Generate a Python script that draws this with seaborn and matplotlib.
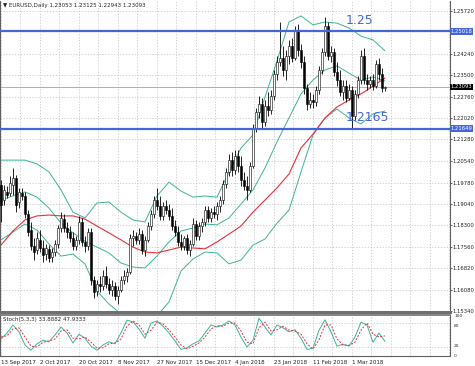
import matplotlib
matplotlib.use("Agg")
import matplotlib.pyplot as plt
import seaborn as sns

# EURUSD daily bars, bar 0 = 13 Sep 2017
opens = [1.1970, 1.1918, 1.1946, 1.1942, 1.1970, 1.1994, 1.1911, 1.1942, 1.1932, 1.1870,
         1.1814, 1.1759, 1.1745, 1.1780, 1.1752, 1.1731, 1.1749, 1.1721, 1.1738, 1.1766,
         1.1821, 1.1853, 1.1821, 1.1807, 1.1787, 1.1759, 1.1780, 1.1842, 1.1773, 1.1759,
         1.1807, 1.1641, 1.1603, 1.1627, 1.1620, 1.1655, 1.1627, 1.1607, 1.1620, 1.1586,
         1.1607, 1.1641, 1.1655, 1.1669, 1.1787, 1.1793, 1.1780, 1.1800, 1.1745, 1.1780,
         1.1828, 1.1870, 1.1918, 1.1897, 1.1863, 1.1897, 1.1883, 1.1863, 1.1828, 1.1807,
         1.1773, 1.1759, 1.1787, 1.1745, 1.1766, 1.1835, 1.1793, 1.1828, 1.1842, 1.1883,
         1.1856, 1.1876, 1.1870, 1.1897, 1.1918, 1.1973, 1.2015, 1.2056, 1.2022, 1.2070,
         1.2036, 1.1987, 1.1966, 1.1953, 1.2036, 1.2167, 1.2222, 1.2250, 1.2188, 1.2243,
         1.2229, 1.2278, 1.2354, 1.2395, 1.2409, 1.2368, 1.2416, 1.2451, 1.2409, 1.2506,
         1.2437, 1.2395, 1.2306, 1.2250, 1.2264, 1.2257, 1.2299, 1.2368, 1.2430, 1.2520,
         1.2416, 1.2430, 1.2361, 1.2333, 1.2292, 1.2312, 1.2271, 1.2299, 1.2209, 1.2285,
         1.2333, 1.2416, 1.2333, 1.2319, 1.2333, 1.2312, 1.2389, 1.2354, 1.23053]
highs = [1.1987, 1.1970, 1.1966, 1.2001, 1.2029, 1.2005, 1.1960, 1.1960, 1.1946, 1.1883,
         1.1842, 1.1787, 1.1807, 1.1814, 1.1780, 1.1766, 1.1762, 1.1752, 1.1780, 1.1832,
         1.1876, 1.1870, 1.1842, 1.1828, 1.1807, 1.1793, 1.1863, 1.1856, 1.1793, 1.1821,
         1.1821, 1.1655, 1.1641, 1.1655, 1.1676, 1.1690, 1.1648, 1.1641, 1.1634, 1.1620,
         1.1655, 1.1676, 1.1683, 1.1800, 1.1814, 1.1807, 1.1821, 1.1814, 1.1793, 1.1842,
         1.1883, 1.1932, 1.1960, 1.1932, 1.1911, 1.1918, 1.1904, 1.1890, 1.1849, 1.1828,
         1.1800, 1.1793, 1.1800, 1.1780, 1.1856, 1.1849, 1.1842, 1.1856, 1.1897, 1.1897,
         1.1890, 1.1897, 1.1911, 1.1932, 1.1987, 1.2029, 1.2077, 1.2084, 1.2091, 1.2091,
         1.2070, 1.2015, 1.2001, 1.2049, 1.2181, 1.2236, 1.2278, 1.2271, 1.2264, 1.2292,
         1.2299, 1.2368, 1.2416, 1.2534, 1.2451, 1.2437, 1.2472, 1.2479, 1.2520, 1.2527,
         1.2458, 1.2416, 1.2319, 1.2292, 1.2285, 1.2312, 1.2382, 1.2444, 1.2551, 1.2534,
         1.2451, 1.2444, 1.2395, 1.2368, 1.2333, 1.2333, 1.2319, 1.2312, 1.2299, 1.2347,
         1.2437, 1.2444, 1.2354, 1.2347, 1.2354, 1.2402, 1.2409, 1.2375, 1.23125]
lows = [1.1842, 1.1901, 1.1925, 1.1932, 1.1935, 1.1876, 1.1890, 1.1918, 1.1856, 1.1793,
        1.1745, 1.1710, 1.1731, 1.1738, 1.1703, 1.1710, 1.1703, 1.1703, 1.1724, 1.1752,
        1.1807, 1.1807, 1.1787, 1.1773, 1.1745, 1.1745, 1.1766, 1.1759, 1.1738, 1.1745,
        1.1624, 1.1579, 1.1586, 1.1600, 1.1607, 1.1614, 1.1593, 1.1586, 1.1572, 1.1558,
        1.1600, 1.1627, 1.1634, 1.1662, 1.1759, 1.1766, 1.1766, 1.1731, 1.1724, 1.1773,
        1.1814, 1.1856, 1.1883, 1.1849, 1.1849, 1.1870, 1.1849, 1.1814, 1.1793, 1.1759,
        1.1745, 1.1745, 1.1731, 1.1724, 1.1759, 1.1780, 1.1780, 1.1807, 1.1828, 1.1842,
        1.1842, 1.1856, 1.1849, 1.1876, 1.1904, 1.1960, 1.2001, 1.2001, 1.2008, 1.2015,
        1.1966, 1.1953, 1.1918, 1.1946, 1.2029, 1.2153, 1.2202, 1.2167, 1.2174, 1.2209,
        1.2216, 1.2264, 1.2333, 1.2382, 1.2347, 1.2333, 1.2389, 1.2395, 1.2402, 1.2416,
        1.2375, 1.2285, 1.2229, 1.2236, 1.2236, 1.2243, 1.2285, 1.2354, 1.2416, 1.2402,
        1.2395, 1.2347, 1.2312, 1.2278, 1.2264, 1.2257, 1.2264, 1.2167, 1.2195, 1.2271,
        1.2319, 1.2319, 1.2299, 1.2306, 1.2299, 1.2306, 1.2333, 1.2292, 1.22943]
closes = [1.1901, 1.1953, 1.1935, 1.1977, 1.1994, 1.1901, 1.1946, 1.1932, 1.1870, 1.1807,
          1.1759, 1.1738, 1.1787, 1.1752, 1.1728, 1.1752, 1.1717, 1.1738, 1.1766, 1.1821,
          1.1856, 1.1821, 1.1807, 1.1787, 1.1759, 1.1780, 1.1842, 1.1773, 1.1759, 1.1807,
          1.1641, 1.1600, 1.1627, 1.1620, 1.1655, 1.1627, 1.1607, 1.1620, 1.1586, 1.1607,
          1.1641, 1.1655, 1.1669, 1.1787, 1.1793, 1.1780, 1.1800, 1.1745, 1.1780, 1.1828,
          1.1870, 1.1918, 1.1897, 1.1863, 1.1897, 1.1883, 1.1863, 1.1828, 1.1807, 1.1773,
          1.1759, 1.1787, 1.1745, 1.1766, 1.1835, 1.1793, 1.1828, 1.1842, 1.1883, 1.1856,
          1.1876, 1.1870, 1.1897, 1.1918, 1.1973, 1.2015, 1.2056, 1.2022, 1.2070, 1.2036,
          1.1987, 1.1966, 1.1953, 1.2036, 1.2167, 1.2222, 1.2250, 1.2188, 1.2243, 1.2229,
          1.2278, 1.2354, 1.2395, 1.2409, 1.2368, 1.2416, 1.2451, 1.2409, 1.2506, 1.2437,
          1.2395, 1.2306, 1.2250, 1.2264, 1.2257, 1.2299, 1.2368, 1.2430, 1.2520, 1.2416,
          1.2430, 1.2361, 1.2333, 1.2292, 1.2312, 1.2271, 1.2299, 1.2209, 1.2285, 1.2333,
          1.2416, 1.2333, 1.2319, 1.2333, 1.2312, 1.2389, 1.2354, 1.2306, 1.23093]

# indicator lines read every 4 bars
ind_step = 4
ma_red = [1.1762, 1.1811, 1.1849, 1.1863, 1.1866, 1.1863, 1.1863, 1.1852, 1.1828, 1.1804,
          1.1780, 1.1755, 1.1738, 1.1735, 1.1745, 1.1755, 1.1752, 1.1749, 1.1773, 1.1800,
          1.1828, 1.1876, 1.1918, 1.1960, 1.2008, 1.2098, 1.2146, 1.2202, 1.2240, 1.2264,
          1.2285, 1.2312, 1.2340]
bb_upper = [1.2056, 1.2056, 1.2056, 1.2043, 1.2015, 1.1953, 1.1876, 1.1856, 1.1908, 1.1911,
            1.1876, 1.1849, 1.1842, 1.1932, 1.1980, 1.1949, 1.1928, 1.1932, 1.1928, 1.2015,
            1.2098, 1.2143, 1.2274, 1.2399, 1.2534, 1.2555, 1.2524, 1.2534, 1.2530, 1.2513,
            1.2485, 1.2472, 1.2434]
bb_mid = [1.1918, 1.1932, 1.1946, 1.1928, 1.1890, 1.1838, 1.1804, 1.1776, 1.1755, 1.1735,
          1.1700, 1.1686, 1.1683, 1.1724, 1.1773, 1.1811, 1.1821, 1.1835, 1.1832, 1.1856,
          1.1904, 1.1953, 1.2029, 1.2119, 1.2202, 1.2285, 1.2333, 1.2368, 1.2382, 1.2357,
          1.2333, 1.2344, 1.2330]
bb_lower = [1.1780, 1.1807, 1.1835, 1.1814, 1.1766, 1.1724, 1.1731, 1.1697, 1.1603, 1.1558,
            1.1524, 1.1524, 1.1524, 1.1517, 1.1565, 1.1672, 1.1714, 1.1738, 1.1735, 1.1697,
            1.1710, 1.1762, 1.1783, 1.1838, 1.1883, 1.2015, 1.2143, 1.2202, 1.2233, 1.2202,
            1.2181, 1.2216, 1.2226]

# stochastic (5,3,3) read every 2 bars
stoch_step = 2
stoch_k = [40, 55, 75, 58, 25, 12, 28, 37, 33, 50, 70, 55, 30, 52, 42, 22, 12, 25, 33, 28,
           55, 87, 83, 65, 42, 80, 85, 72, 55, 35, 14, 18, 28, 35, 55, 75, 70, 75, 85, 75,
           45, 20, 37, 92, 70, 50, 75, 68, 58, 63, 42, 14, 17, 62, 88, 58, 22, 27, 22, 45,
           82, 75, 32, 55, 33.8882]
stoch_d = [45, 48, 65, 68, 45, 22, 20, 32, 35, 40, 60, 63, 42, 40, 45, 32, 17, 18, 28, 30,
           40, 72, 85, 75, 52, 62, 82, 78, 63, 45, 25, 15, 22, 30, 45, 65, 73, 72, 80, 80,
           60, 32, 28, 68, 82, 60, 63, 72, 62, 60, 52, 28, 15, 38, 75, 75, 40, 25, 24, 32,
           62, 80, 52, 45, 47.9333]

level_high = 1.25018
level_low = 1.21649
price_labels = ["1.25720", "1.24240", "1.23500", "1.22760", "1.22020", "1.21280", "1.20540",
                "1.19780", "1.19040", "1.18300", "1.17560", "1.16820", "1.16080", "1.15340"]
date_labels = ["13 Sep 2017", "2 Oct 2017", "20 Oct 2017", "8 Nov 2017", "27 Nov 2017",
               "15 Dec 2017", "4 Jan 2018", "23 Jan 2018", "11 Feb 2018", "1 Mar 2018"]
label_every = 13

sns.set_theme(style="white")
plt.rcParams['font.family'] = ['DejaVu Sans']

W, H = 475, 366
fig = plt.figure(figsize=(W / 100, H / 100), dpi=100)
ax = fig.add_axes([0, (H - 312) / H, 450 / W, 311 / H])
ax2 = fig.add_axes([0, (H - 356) / H, 450 / W, 41 / H])

teal = "#3cb39a"
red = "#e8303a"
blue = "#4466dd"
small = 4.0
axis_font = 3.8
grid_kw = dict(color="#c8c8c8", linestyle=(0, (1.5, 2)), linewidth=0.6)

n = len(closes)
xs = list(range(n))
ind_x = list(range(0, n, ind_step))
st_x = list(range(0, n, stoch_step))

for a in (ax, ax2):
    a.set_xlim(-0.33, 149.67)
    for v in [k * label_every / 2 for k in range(24)]:
        a.axvline(v, zorder=0, **grid_kw)

ax.set_ylim(1.15305, 1.26066)
for lab in price_labels:
    ax.axhline(float(lab), zorder=0, **grid_kw)

# bollinger bands and moving average
for series in (bb_upper, bb_mid, bb_lower):
    sns.lineplot(x=ind_x, y=series, ax=ax, color=teal, linewidth=0.7, legend=False, zorder=2)
sns.lineplot(x=ind_x, y=ma_red, ax=ax, color=red, linewidth=0.8, legend=False, zorder=2)

# candles
for i in xs:
    o, h, l, c = opens[i], highs[i], lows[i], closes[i]
    ax.vlines(i, l, h, color="black", linewidth=0.6, zorder=3)
    body = max(abs(c - o), 0.0002)
    ax.bar(i, body, bottom=min(o, c), width=0.6, color="white" if c >= o else "black",
           edgecolor="black", linewidth=0.4, zorder=4)

# bid line and support/resistance
ax.axhline(closes[-1], color="#b0b0b0", linewidth=0.7, zorder=1)
for lvl, txt in ((level_high, "1.25"), (level_low, "1.2165")):
    ax.axhline(lvl, color=blue, linewidth=1.6, zorder=5)
    ax.annotate(txt, xy=(115, lvl), xytext=(0, 3), textcoords="offset points",
                color=blue, fontsize=9, va="bottom", ha="left")

ax.yaxis.tick_right()
ax.set_yticks([float(v) for v in price_labels])
ax.set_yticklabels(price_labels, fontsize=axis_font)
ax.tick_params(axis="y", length=1.5, width=0.5, pad=0.6, colors="#202020")
ax.set_xticks([])
for val, txt, bg in ((level_high, "1.25018", blue), (closes[-1], "1.23093", "black"),
                     (level_low, "1.21649", blue)):
    ax.text(1.0015, val, txt, transform=ax.get_yaxis_transform(), fontsize=axis_font,
            color="white", va="center", ha="left",
            bbox=dict(boxstyle="square,pad=0.15", fc=bg, ec="none"))

ax.text(0.006, 0.992, "\u25bc EURUSD,Daily 1.23053 1.23125 1.22943 1.23093",
        transform=ax.transAxes, fontsize=small, va="top", ha="left")

# stochastic panel
ax2.set_ylim(-2.5, 100)
for lvl in (20, 80):
    ax2.axhline(lvl, zorder=0, **grid_kw)
sns.lineplot(x=st_x, y=stoch_k, ax=ax2, color=teal, linewidth=0.7, legend=False)
sns.lineplot(x=st_x, y=stoch_d, ax=ax2, color=red, linewidth=0.7, linestyle=(0, (2, 1.5)),
             legend=False)
ax2.text(0.006, 0.95, "Stoch(5,3,3) 33.8882 47.9333", transform=ax2.transAxes,
         fontsize=small, va="top", ha="left")
ax2.yaxis.tick_right()
ax2.set_yticks([])
for val, txt, dy in ((100, "100", -1.0), (80, "80", -2.0), (20, "20", 1.0), (0, "0", -1.0)):
    ax2.annotate(txt, xy=(1.0, val), xycoords=ax2.get_yaxis_transform(), xytext=(3, dy),
                 textcoords="offset points", fontsize=3.2, va="center", ha="left")
ax2.set_xticks([k * label_every for k in range(len(date_labels))])
ax2.set_xticklabels(date_labels, fontsize=small, ha="left")
ax2.tick_params(axis="x", length=2, width=0.5, pad=1, colors="#202020")

for a in (ax, ax2):
    for s in a.spines.values():
        s.set_color("#606060")
        s.set_linewidth(0.8)
    a.spines["top"].set_visible(False)
ax.spines["bottom"].set_linewidth(2.2)
ax.spines["bottom"].set_color("#707070")
ax2.spines["top"].set_visible(True)
ax2.spines["top"].set_linewidth(1.2)
ax2.spines["top"].set_color("#707070")

fig.savefig("out.png", dpi=100)
